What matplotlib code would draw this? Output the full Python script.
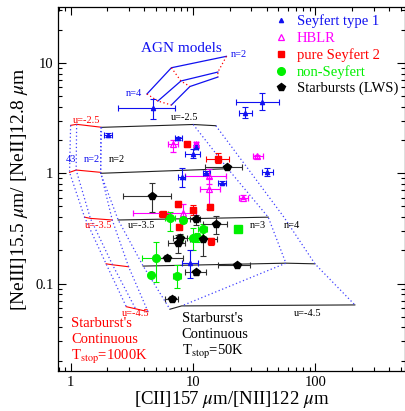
import matplotlib
matplotlib.use("Agg")
import matplotlib.pyplot as plt

plt.rcParams['font.family'] = ['Liberation Serif', 'DejaVu Serif']
plt.rcParams['mathtext.fontset'] = 'stix'

# ---- observed points: value, then lower / upper end of the error bars ----
sy1_x = [4.74, 36.9, 26.9, 2.01, 7.59, 9.94, 10.6, 8.08, 12.9, 17.15, 40.5, 9.5]
sy1_y = [3.88, 4.46, 3.55, 2.23, 2.08, 1.49, 1.74, 0.933, 1.01, 0.82, 1.035, 0.155]
sy1_xlo = [2.45, 22.5, 23.9, 1.88, 7.13, 8.60, 10.2, 7.6, 12.0, 16.1, 36.4, 8.08]
sy1_xhi = [7.13, 50.8, 30.2, 2.16, 8.08, 11.41, 11.0, 8.6, 13.8, 18.6, 45.4, 11.06]
sy1_ylo = [3.09, 3.75, 3.15, 2.15, 2.0, 1.38, 1.68, 0.757, 0.97, 0.80, 0.95, 0.112]
sy1_yhi = [4.69, 5.31, 3.97, 2.30, 2.15, 1.65, 1.80, 1.11, 1.05, 0.845, 1.12, 0.202]

hblr_x = [6.91, 10.6, 13.6, 13.6, 33.6, 25.5, 8.23]
hblr_y = [1.84, 1.83, 0.95, 0.716, 1.42, 0.60, 0.434]
hblr_xlo = [6.29, 10.2, 8.6, 11.4, 31.1, 23.9, 3.25]
hblr_xhi = [7.59, 11.1, 18.6, 16.6, 37.1, 28.3, 10.7]
hblr_ylo = [1.57, 1.74, 0.80, 0.47, 1.37, 0.58, 0.40]
hblr_yhi = [2.0, 1.92, 1.10, 0.90, 1.47, 0.63, 0.53]

sy2_x = [8.88, 16.1, 7.59, 9.94, 13.8, 5.65, 7.73, 13.95]
sy2_y = [1.84, 1.34, 0.524, 0.465, 0.499, 0.428, 0.329, 0.243]
sy2_xlo = [8.5, 12.8, 7.3, 9.5, 13.4, 5.3, 7.4, 13.3]
sy2_xhi = [9.3, 19.8, 7.9, 10.4, 14.2, 6.2, 8.1, 14.6]
sy2_ylo = [1.74, 1.23, 0.49, 0.42, 0.47, 0.41, 0.31, 0.225]
sy2_yhi = [1.92, 1.52, 0.56, 0.52, 0.53, 0.45, 0.35, 0.26]

nons_x = [6.49, 8.23, 10.06, 12.0, 4.98, 4.54, 7.44, 10.8]
nons_y = [0.391, 0.378, 0.258, 0.311, 0.172, 0.120, 0.117, 0.265]
nons_xlo = [5.9, 7.8, 8.34, 11.0, 3.8, 4.4, 6.9, 9.8]
nons_xhi = [7.1, 8.7, 12.3, 13.0, 6.49, 4.7, 8.0, 11.8]
nons_ylo = [0.30, 0.36, 0.20, 0.27, 0.104, 0.115, 0.091, 0.24]
nons_yhi = [0.45, 0.40, 0.317, 0.35, 0.24, 0.125, 0.148, 0.29]
nons_sq_x = [23.5]
nons_sq_y = [0.311]

sb_x = [18.84, 4.59, 10.58, 15.32, 7.59, 7.83, 12.15, 6.09, 22.74, 10.7, 6.78]
sb_y = [1.13, 0.623, 0.383, 0.347, 0.232, 0.261, 0.254, 0.172, 0.148, 0.126, 0.0726]
sb_xlo = [12.5, 2.69, 9.5, 12.2, 6.3, 6.9, 9.45, 5.0, 16.1, 8.6, 5.9]
sb_xhi = [25.0, 6.57, 11.5, 19.0, 8.6, 9.0, 15.8, 8.34, 29.2, 12.9, 7.6]
sb_ylo = [1.09, 0.45, 0.34, 0.28, 0.188, 0.24, 0.176, 0.165, 0.145, 0.12, 0.069]
sb_yhi = [1.17, 0.81, 0.42, 0.41, 0.276, 0.28, 0.317, 0.18, 0.152, 0.133, 0.077]

# ---- AGN models (three tracks, points joined by dotted lines) ----
agn_a_x = [4.21, 6.67, 18.8]
agn_a_y = [5.24, 9.06, 11.5]
agn_b_x = [5.17, 7.98, 16.0]
agn_b_y = [4.52, 6.87, 8.28]
agn_c_x = [6.67, 9.45, 16.0]
agn_c_y = [4.16, 6.12, 7.46]

# ---- starburst continuous, Tstop=1000K (rows = u, cols = n=4,3,2) ----
hot_x = [[1.0, 1.12, 1.76],
         [0.98, 1.11, 1.76],
         [1.30, 1.45, 2.19],
         [1.95, 2.2, 2.98],
         [2.85, 3.4, 4.29]]
hot_y = [[2.72, 2.78, 2.62],
         [1.02, 1.07, 1.02],
         [0.40, 0.39, 0.377],
         [0.151, 0.148, 0.142],
         [0.0617, 0.059, 0.0556]]

# ---- starburst continuous, Tstop=50K (u lines, n lines) ----
cold_u_x = [[1.79, 10.06, 15.4],
            [1.76, 19.3],
            [2.45, 41.3],
            [3.92, 57.6, 99.5],
            [6.49, 8.09, 211.0]]
cold_u_y = [[2.61, 2.77, 2.70],
            [1.0, 1.10],
            [0.377, 0.40],
            [0.144, 0.153, 0.151],
            [0.0585, 0.0627, 0.064]]
cold_n_x = [[1.79, 1.76, 2.45, 3.92, 6.49],
            [10.06, 19.3, 41.3, 57.6, 8.09],
            [15.4, 28.2, 55.5, 99.5, 211.0]]
cold_n_y = [[2.61, 1.0, 0.377, 0.144, 0.0585],
            [2.77, 1.10, 0.40, 0.153, 0.0627],
            [2.70, 1.10, 0.40, 0.151, 0.064]]

fig = plt.figure(figsize=(4.06, 4.11), dpi=100)
ax = fig.add_axes([0.1436, 0.0973, 0.855, 0.8849])
ax.set_xscale('log')
ax.set_yscale('log')

blue = '#1010f0'
dotblue = '#4040ff'
green = '#00f000'

# AGN model grid
for xs, ys in [(agn_a_x, agn_a_y), (agn_b_x, agn_b_y), (agn_c_x, agn_c_y)]:
    ax.plot(xs, ys, color=blue, lw=0.9)
for k in range(3):
    ax.plot([agn_a_x[k], agn_b_x[k], agn_c_x[k]], [agn_a_y[k], agn_b_y[k], agn_c_y[k]],
            color='red', lw=0.9, ls=(0, (1, 2)))

# hot starburst grid
for xs, ys in zip(hot_x, hot_y):
    ax.plot(xs, ys, color='red', lw=0.8)
for k in range(3):
    ax.plot([r[k] for r in hot_x], [r[k] for r in hot_y], color=dotblue, lw=0.9, ls=(0, (1, 2)))

# cold starburst grid
for xs, ys in zip(cold_u_x, cold_u_y):
    ax.plot(xs, ys, color='#202020', lw=0.8)
for xs, ys in zip(cold_n_x, cold_n_y):
    ax.plot(xs, ys, color=dotblue, lw=0.9, ls=(0, (1, 2)))


def errs(v, lo, hi):
    return [[a - b for a, b in zip(v, lo)], [b - a for a, b in zip(v, hi)]]


ekw = dict(ls='none', elinewidth=0.8, capsize=2.2, capthick=0.8)
ax.errorbar(sy2_x, sy2_y, xerr=errs(sy2_x, sy2_xlo, sy2_xhi), yerr=errs(sy2_y, sy2_ylo, sy2_yhi),
            color='red', marker='s', ms=4.2, label='pure Seyfert 2', **ekw)
ax.errorbar(hblr_x, hblr_y, xerr=errs(hblr_x, hblr_xlo, hblr_xhi), yerr=errs(hblr_y, hblr_ylo, hblr_yhi),
            color='magenta', marker='^', ms=4.5, mfc='none', mew=0.9, label='HBLR', **ekw)
ax.errorbar(nons_x, nons_y, xerr=errs(nons_x, nons_xlo, nons_xhi), yerr=errs(nons_y, nons_ylo, nons_yhi),
            color=green, marker='o', ms=5.5, label='non-Seyfert', **ekw)
ax.plot(nons_sq_x, nons_sq_y, ls='none', marker='s', ms=6, color=green)
ax.errorbar(sb_x, sb_y, xerr=errs(sb_x, sb_xlo, sb_xhi), yerr=errs(sb_y, sb_ylo, sb_yhi),
            color='black', ecolor='#303030', marker='p', ms=5.5, label='Starbursts (LWS)', **ekw)
ax.errorbar(sy1_x, sy1_y, xerr=errs(sy1_x, sy1_xlo, sy1_xhi), yerr=errs(sy1_y, sy1_ylo, sy1_yhi),
            color=blue, marker='^', ms=3, label='Seyfert type 1', **ekw)

# text labels on the model grids
small = 7.5
ax.text(8.09, 13.6, 'AGN models', color=blue, fontsize=11, ha='center', va='center')
ax.text(23.8, 12.0, 'n=2', color=blue, fontsize=small, ha='center', va='center')
ax.text(3.31, 5.27, 'n=4', color=blue, fontsize=small, ha='center', va='center')
ax.text(1.34, 3.0, 'u=-2.5', color='red', fontsize=small, ha='center', va='center')
ax.text(1.0, 1.32, '43', color=blue, fontsize=small, ha='center', va='center')
ax.text(1.50, 1.32, 'n=2', color=blue, fontsize=small, ha='center', va='center')
ax.text(1.70, 0.333, 'u=-3.5', color='red', fontsize=small, ha='center', va='center')
ax.text(3.42, 0.053, 'u=-4.5', color='red', fontsize=small, ha='center', va='center')
ax.text(8.6, 3.19, 'u=-2.5', color='black', fontsize=small, ha='center', va='center')
ax.text(2.38, 1.32, 'n=2', color='black', fontsize=small, ha='center', va='center')
ax.text(3.81, 0.333, 'u=-3.5', color='black', fontsize=small, ha='center', va='center')
ax.text(33.8, 0.333, 'n=3', color='black', fontsize=small, ha='center', va='center')
ax.text(64.1, 0.333, 'n=4', color='black', fontsize=small, ha='center', va='center')
ax.text(86.0, 0.053, 'u=-4.5', color='black', fontsize=small, ha='center', va='center')

ax.text(1.006, 0.0437, "Starburst's", color='red', fontsize=10.5, va='center')
ax.text(1.006, 0.0308, 'Continuous', color='red', fontsize=10.5, va='center')
ax.text(1.006, 0.0217, r'T$_{\rm stop}$=1000K', color='red', fontsize=10.5, va='center')
ax.text(8.08, 0.0485, "Starburst's", color='black', fontsize=10.5, va='center')
ax.text(8.08, 0.0342, 'Continuous', color='black', fontsize=10.5, va='center')
ax.text(8.08, 0.0241, r'T$_{\rm stop}$=50K', color='black', fontsize=10.5, va='center')

# legend
h, l = ax.get_legend_handles_labels()
order = ['Seyfert type 1', 'HBLR', 'pure Seyfert 2', 'non-Seyfert', 'Starbursts (LWS)']
hh = []
for name in order:
    e = h[l.index(name)]
    hh.append(e[0] if hasattr(e, 'lines') else e)
leg = ax.legend(hh, order, loc='upper left', bbox_to_anchor=(0.624, 0.98), frameon=False,
                fontsize=10.5, handlelength=0.8, handletextpad=0.7, labelspacing=0.22,
                borderpad=0, borderaxespad=0, numpoints=1)
for txt, c in zip(leg.get_texts(), [blue, 'magenta', 'red', green, 'black']):
    txt.set_color(c)

ax.set_xlim(0.793, 547)
ax.set_ylim(0.0161, 32)
ax.set_xticks([1, 10, 100])
ax.set_xticklabels(['1', '10', '100'])
ax.set_yticks([0.1, 1, 10])
ax.set_yticklabels(['0.1', '1', '10'])
ax.tick_params(which='both', direction='in', top=True, right=True, labelsize=10.5, width=0.8)
ax.tick_params(which='major', length=6)
ax.tick_params(which='minor', length=3)
for s in ax.spines.values():
    s.set_linewidth(0.9)

ax.set_xlabel(r'[CII]157 $\mu$m/[NII]122 $\mu$m', fontsize=13.5, labelpad=0)
ax.set_ylabel(r'[NeIII]15.5 $\mu$m/ [NeII]12.8 $\mu$m', fontsize=14, labelpad=4)

fig.savefig('out.png', dpi=100)
